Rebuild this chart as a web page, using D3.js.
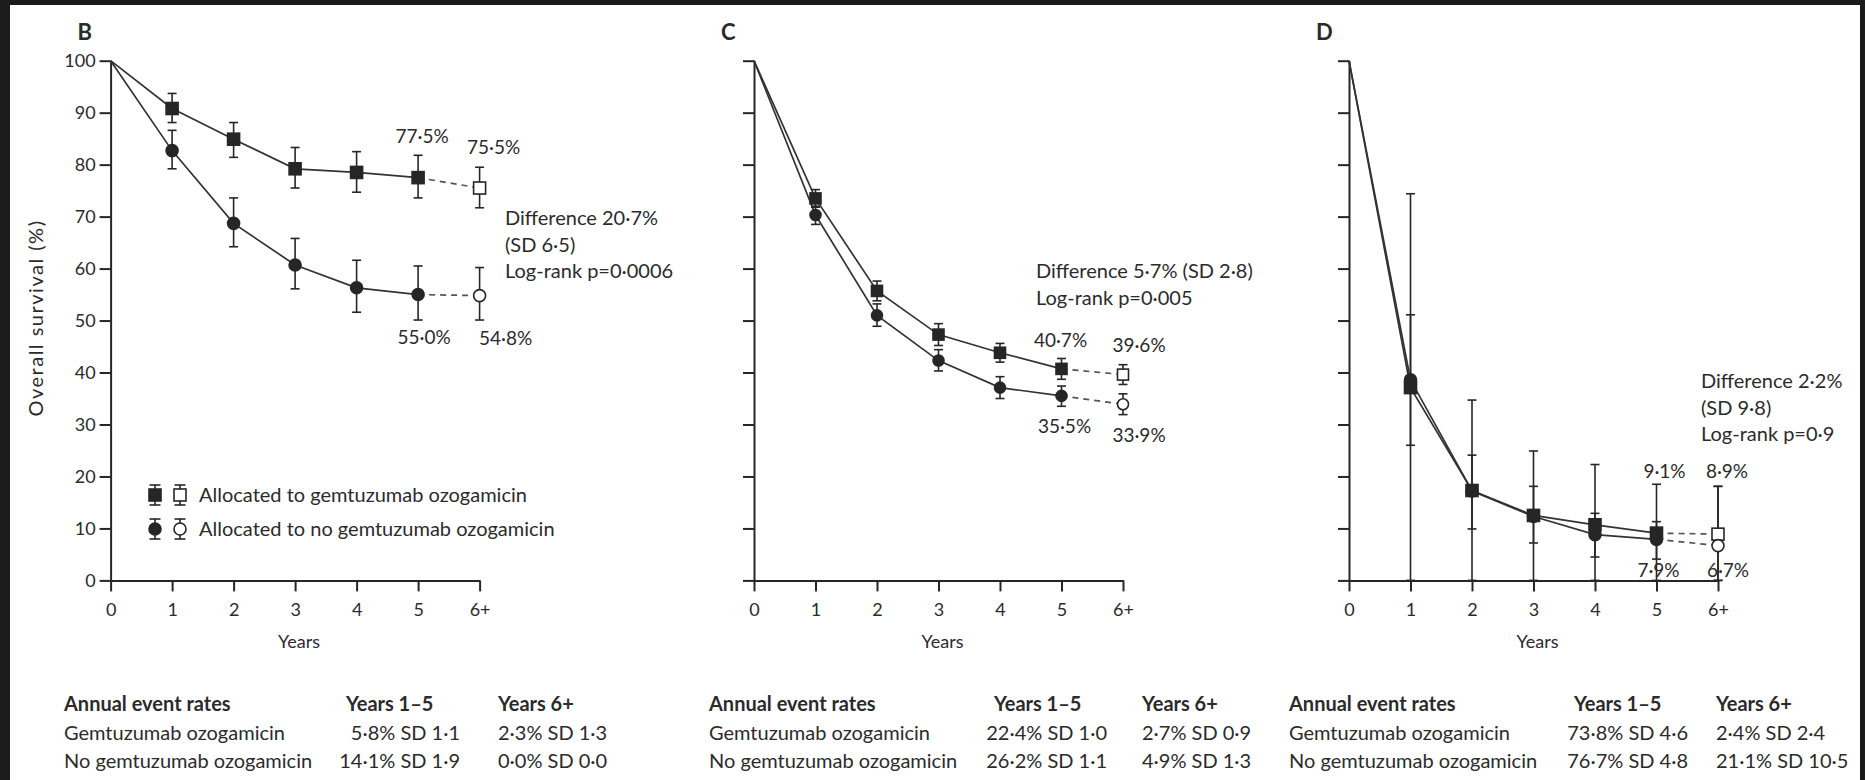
<!DOCTYPE html>
<html>
<head>
<meta charset="utf-8">
<script src="https://cdn.jsdelivr.net/npm/d3@7"></script>
<style>
  body { margin: 0; background: #1b1b1b; }
  svg text { font-family: Lato, Roboto, 'Liberation Sans', sans-serif; fill: #2b2b2b; }
</style>
</head>
<body>
<svg id="chart" width="1865" height="780"></svg>
<script>
'use strict';

// categories and ticks
var years = ['0', '1', '2', '3', '4', '5', '6+'];
var yTicks = [0, 10, 20, 30, 40, 50, 60, 70, 80, 90, 100];
var panelLetters = ['B', 'C', 'D'];
var legendLabels = ['Allocated to gemtuzumab ozogamicin', 'Allocated to no gemtuzumab ozogamicin'];

// panel B, survival (%) with error bar ends for years 1..6+
var bGoMid = [100, 90.8, 84.9, 79.2, 78.5, 77.5, 75.5];
var bGoHi = [93.7, 88.1, 83.3, 82.5, 81.8, 79.5];
var bGoLo = [88.1, 81.4, 75.5, 74.7, 73.6, 71.7];
var bNoMid = [100, 82.7, 68.7, 60.7, 56.3, 55.0, 54.8];
var bNoHi = [86.6, 73.6, 65.8, 61.6, 60.5, 60.2];
var bNoLo = [79.2, 64.2, 56.1, 51.6, 50.1, 50.1];

// panel C
var cGoMid = [100, 73.5, 55.7, 47.3, 43.8, 40.7, 39.6];
var cGoHi = [75.2, 57.6, 49.4, 45.6, 42.7, 41.5];
var cGoLo = [71.8, 53.8, 45.2, 42.0, 38.7, 37.7];
var cNoMid = [100, 70.3, 51.0, 42.3, 37.1, 35.5, 33.9];
var cNoHi = [72.0, 53.2, 44.4, 39.2, 37.4, 35.9];
var cNoLo = [68.5, 48.9, 40.3, 35.0, 33.5, 31.9];

// panel D
var dGoMid = [100, 37.1, 17.3, 12.5, 10.7, 9.1, 8.9];
var dGoHi = [74.4, 34.7, 24.9, 22.3, 18.5, 18.1];
var dGoLo = [0, 0, 0, 0, 0, 0];
var dNoMid = [100, 38.6, 17.2, 12.3, 8.8, 7.9, 6.7];
var dNoHi = [51.1, 24.1, 18.1, 12.9, 11.3, 18.1];
var dNoLo = [26.0, 9.9, 7.2, 4.5, 4.1, 0];

// annotations
var bNotes = ['Difference 20\u00b77%', '(SD 6\u00b75)', 'Log-rank p=0\u00b70006'];
var cNotes = ['Difference 5\u00b77% (SD 2\u00b78)', 'Log-rank p=0\u00b7005'];
var dNotes = ['Difference 2\u00b72%', '(SD 9\u00b78)', 'Log-rank p=0\u00b79'];
var bEndLabels = ['77\u00b75%', '75\u00b75%', '55\u00b70%', '54\u00b78%'];
var cEndLabels = ['40\u00b77%', '39\u00b76%', '35\u00b75%', '33\u00b79%'];
var dEndLabels = ['9\u00b71%', '8\u00b79%', '7\u00b79%', '6\u00b77%'];

// annual event rate tables
var rateHeaders = ['Annual event rates', 'Years 1\u20135', 'Years 6+'];
var rateRows = ['Gemtuzumab ozogamicin', 'No gemtuzumab ozogamicin'];
var bRates = [['5\u00b78% SD 1\u00b71', '2\u00b73% SD 1\u00b73'], ['14\u00b71% SD 1\u00b79', '0\u00b70% SD 0\u00b70']];
var cRates = [['22\u00b74% SD 1\u00b70', '2\u00b77% SD 0\u00b79'], ['26\u00b72% SD 1\u00b71', '4\u00b79% SD 1\u00b73']];
var dRates = [['73\u00b78% SD 4\u00b76', '2\u00b74% SD 2\u00b74'], ['76\u00b77% SD 4\u00b78', '21\u00b71% SD 10\u00b75']];

// layout
var W = 369, yTop = 60.7, yBot = 580.4, ink = '#262626';

var panels = [
  {x0: 110.6, go: [bGoMid, bGoHi, bGoLo], no: [bNoMid, bNoHi, bNoLo], notes: bNotes, noteX: 505, noteY: 218,
   ends: bEndLabels, endOff: [[4, -41], [14, -41], [6, 43], [26, 43]], rates: bRates,
   table: [64, 460, 346, 498], marker: 12, labels: true},
  {x0: 754, go: [cGoMid, cGoHi, cGoLo], no: [cNoMid, cNoHi, cNoLo], notes: cNotes, noteX: 1036, noteY: 271,
   ends: cEndLabels, endOff: [[-1, -29], [16, -29], [3, 30], [16, 31]], rates: cRates,
   table: [709, 1107, 994, 1142], marker: 11, labels: false},
  {x0: 1349, go: [dGoMid, dGoHi, dGoLo], no: [dNoMid, dNoHi, dNoLo], notes: dNotes, noteX: 1701, noteY: 381,
   ends: dEndLabels, endOff: [[8, -62], [9, -63], [2, 31], [10, 25]], rates: dRates,
   table: [1289, 1688, 1574, 1716], marker: 12, labels: false}
];

var svg = d3.select('#chart');

svg.append('rect')
  .attr('x', 10).attr('y', 5)
  .attr('width', 1850).attr('height', 775)
  .style('fill', '#fff');

var y = d3.scaleLinear().domain([0, 100]).range([yBot, yTop]);

function squareAt(g, cx, cy, s, fill) {
  g.append('rect')
    .attr('x', cx - s / 2).attr('y', cy - s / 2)
    .attr('width', s).attr('height', s)
    .style('fill', fill).style('stroke', ink).style('stroke-width', 1.6);
}

function circleAt(g, cx, cy, s, fill) {
  g.append('circle')
    .attr('cx', cx).attr('cy', cy).attr('r', s / 2)
    .style('fill', fill).style('stroke', ink).style('stroke-width', 1.6);
}

function errBar(g, cx, y1, y2, cap) {
  g.append('line')
    .attr('x1', cx).attr('x2', cx).attr('y1', y1).attr('y2', y2)
    .style('stroke', ink).style('stroke-width', 1.6);
  [y1, y2].forEach(function (yy) {
    g.append('line')
      .attr('x1', cx - cap / 2).attr('x2', cx + cap / 2)
      .attr('y1', yy).attr('y2', yy)
      .style('stroke', ink).style('stroke-width', 1.6);
  });
}

panels.forEach(function (p, pi) {
  var g = svg.append('g');
  var x = d3.scalePoint().domain(years).range([p.x0, p.x0 + W]);

  // axes
  var gx = g.append('g')
    .attr('transform', 'translate(0,' + yBot + ')')
    .call(d3.axisBottom(x).tickSize(11).tickSizeOuter(0).tickPadding(12));

  var yAxis = d3.axisLeft(y).tickValues(yTicks).tickSize(11).tickSizeOuter(0).tickPadding(4);
  if (!p.labels) {
    yAxis.tickFormat('');
  }
  var gy = g.append('g')
    .attr('transform', 'translate(' + p.x0 + ',0)')
    .call(yAxis);

  [gx, gy].forEach(function (a) {
    a.selectAll('path, line').style('stroke', ink).style('stroke-width', 2);
    a.selectAll('text')
      .style('font-family', 'Lato, Roboto, sans-serif')
      .style('font-size', '18px')
      .style('fill', '#2b2b2b');
  });

  g.append('text')
    .attr('x', x('3') + 4).attr('y', 642).attr('dy', '0.35em')
    .attr('text-anchor', 'middle')
    .style('font-size', '18px')
    .text('Years');

  g.append('text')
    .attr('x', p.x0 - 33).attr('y', 32).attr('dy', '0.35em')
    .style('font-size', '22px').style('font-weight', 'bold')
    .text(panelLetters[pi]);

  // lines: solid to year 5, dashed to 6+
  var line = d3.line()
    .x(function (d) { return x(d[0]); })
    .y(function (d) { return y(d[1]); });

  [p.go, p.no].forEach(function (s) {
    var pts = years.map(function (yr, i) { return [yr, s[0][i]]; });
    g.append('path')
      .attr('d', line(pts.slice(0, 6)))
      .style('fill', 'none').style('stroke', '#333').style('stroke-width', 1.7);
    g.append('path')
      .attr('d', line(pts.slice(5)))
      .style('fill', 'none').style('stroke', '#555').style('stroke-width', 1.7)
      .style('stroke-dasharray', '6,5');
  });

  // error bars
  [p.go, p.no].forEach(function (s) {
    years.slice(1).forEach(function (yr, i) {
      errBar(g, x(yr), y(s[1][i]), y(s[2][i]), 9);
    });
  });

  // markers
  years.slice(1).forEach(function (yr, i) {
    var open = yr === '6+';
    squareAt(g, x(yr), y(p.go[0][i + 1]), p.marker, open ? '#fff' : ink);
  });
  years.slice(1).forEach(function (yr, i) {
    var open = yr === '6+';
    circleAt(g, x(yr), y(p.no[0][i + 1]), p.marker, open ? '#fff' : ink);
  });

  // end-point labels
  var anchors = [[p.go[0], '5'], [p.go[0], '6+'], [p.no[0], '5'], [p.no[0], '6+']];
  p.ends.forEach(function (t, i) {
    var s = anchors[i][0], yr = anchors[i][1];
    g.append('text')
      .attr('x', x(yr) + p.endOff[i][0])
      .attr('y', y(s[years.indexOf(yr)]) + p.endOff[i][1])
      .attr('dy', '0.35em')
      .attr('text-anchor', 'middle')
      .style('font-size', '19px')
      .text(t);
  });

  // difference notes
  p.notes.forEach(function (t, i) {
    g.append('text')
      .attr('x', p.noteX).attr('y', p.noteY + i * 26.7).attr('dy', '0.35em')
      .style('font-size', '20px')
      .text(t);
  });

  // annual event rate table
  var rowY = [704, 733, 761];
  g.append('text')
    .attr('x', p.table[0]).attr('y', rowY[0]).attr('dy', '0.35em')
    .style('font-size', '20px').style('font-weight', 'bold')
    .text(rateHeaders[0]);
  g.append('text')
    .attr('x', p.table[2]).attr('y', rowY[0]).attr('dy', '0.35em')
    .style('font-size', '20px').style('font-weight', 'bold')
    .text(rateHeaders[1]);
  g.append('text')
    .attr('x', p.table[3]).attr('y', rowY[0]).attr('dy', '0.35em')
    .style('font-size', '20px').style('font-weight', 'bold')
    .text(rateHeaders[2]);
  rateRows.forEach(function (r, i) {
    g.append('text')
      .attr('x', p.table[0]).attr('y', rowY[i + 1]).attr('dy', '0.35em')
      .style('font-size', '20px')
      .text(r);
    g.append('text')
      .attr('x', p.table[1]).attr('y', rowY[i + 1]).attr('dy', '0.35em')
      .attr('text-anchor', 'end')
      .style('font-size', '20px')
      .text(p.rates[i][0]);
    g.append('text')
      .attr('x', p.table[3]).attr('y', rowY[i + 1]).attr('dy', '0.35em')
      .style('font-size', '20px')
      .text(p.rates[i][1]);
  });
});

// y axis title
svg.append('text')
  .attr('transform', 'translate(36,318) rotate(-90)')
  .attr('dy', '0.35em')
  .attr('text-anchor', 'middle')
  .style('font-size', '20px')
  .style('letter-spacing', '1.5px')
  .text('Overall survival (%)');

// legend (panel B)
var lg = svg.append('g');
legendLabels.forEach(function (t, i) {
  var cy = 495 + i * 34;
  [155, 180].forEach(function (cx, j) {
    errBar(lg, cx, cy - 10, cy + 10, 11);
    if (i === 0) {
      squareAt(lg, cx, cy, 12, j === 0 ? ink : '#fff');
    } else {
      circleAt(lg, cx, cy, 12, j === 0 ? ink : '#fff');
    }
  });
  lg.append('text')
    .attr('x', 199).attr('y', cy).attr('dy', '0.35em')
    .style('font-size', '20px')
    .text(t);
});
</script>
</body>
</html>
